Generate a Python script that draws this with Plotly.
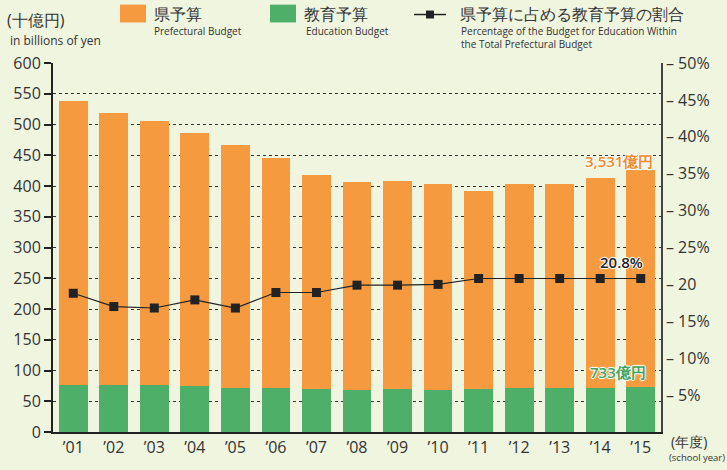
import plotly.graph_objects as go

years = ["’01", "’02", "’03", "’04", "’05", "’06", "’07", "’08", "’09", "’10", "’11", "’12", "’13", "’14", "’15"]
education = [76, 77, 76, 75, 71, 71, 70, 69, 70, 69, 70, 71, 71, 72, 73.3]
prefectural = [461.6, 442, 430, 412, 396, 374, 348, 337, 338, 334, 322, 332, 332, 341, 353.1]
share_pct = [18.8, 17.0, 16.8, 17.9, 16.8, 18.9, 18.9, 19.9, 19.9, 20.0, 20.8, 20.8, 20.8, 20.8, 20.8]

left_ticks = [0, 50, 100, 150, 200, 250, 300, 350, 400, 450, 500, 550, 600]
right_tickvals = [5, 10, 15, 20, 25, 30, 35, 40, 45, 50]
right_ticktext = ["– 5%", "– 10%", "– 15%", "– 20", "– 25%", "– 30%", "– 35%", "– 40%", "– 45%", "– 50%"]

ORANGE = "#F59A3E"
GREEN = "#4DAF68"
BG = "#EFF5DF"
DARK = "#222222"
FONT = "Open Sans"

fig = go.Figure()
fig.add_trace(go.Bar(x=years, y=education, marker_color=GREEN, marker_line_width=0, name="教育予算"))
fig.add_trace(go.Bar(x=years, y=prefectural, marker_color=ORANGE, marker_line_width=0, name="県予算"))
fig.add_trace(go.Scatter(x=years, y=share_pct, yaxis="y2", mode="lines+markers",
                         line=dict(color=DARK, width=1.2),
                         marker=dict(symbol="square", size=9, color=DARK),
                         name="割合"))

fig.update_layout(
    width=727, height=470,
    margin=dict(l=53, r=66, t=63, b=34),
    barmode="stack", bargap=0.29,
    showlegend=False,
    paper_bgcolor=BG, plot_bgcolor=BG,
    font=dict(family=FONT, color="#333333", size=15),
    xaxis=dict(range=[-0.5, 14.5], showline=True, linecolor=DARK, linewidth=2, ticks="", showgrid=False,
               tickfont=dict(size=16, color="#333333")),
    yaxis=dict(range=[0, 600], tickvals=left_ticks, showline=True, linecolor=DARK, linewidth=2,
               ticks="outside", ticklen=7, tickcolor=DARK, tickwidth=1.5,
               showgrid=True, gridcolor="#333333", griddash="dot", gridwidth=1,
               zeroline=False, tickfont=dict(size=16, color="#333333")),
    yaxis2=dict(range=[0, 50], overlaying="y", side="right", tickvals=right_tickvals,
                ticktext=right_ticktext, showline=True, linecolor="#444444", linewidth=1.5,
                ticks="", showgrid=False, zeroline=False,
                tickfont=dict(size=16, color="#333333")),
)


def px_x(px):
    return (px - 53) / 608.0


def px_y(py):
    return (436 - py) / 373.0


fig.add_shape(type="rect", xref="x domain", yref="y domain", x0=px_x(120), x1=px_x(146),
              y0=px_y(22), y1=px_y(4), fillcolor=ORANGE, line_width=0)
fig.add_shape(type="rect", xref="x domain", yref="y domain", x0=px_x(270), x1=px_x(296),
              y0=px_y(22), y1=px_y(4), fillcolor=GREEN, line_width=0)
fig.add_shape(type="line", xref="x domain", yref="y domain", x0=px_x(414), x1=px_x(446),
              y0=px_y(14), y1=px_y(14), line=dict(color=DARK, width=1.5))
fig.add_shape(type="rect", xref="x domain", yref="y domain", x0=px_x(426), x1=px_x(434),
              y0=px_y(18), y1=px_y(10), fillcolor=DARK, line_width=0)


def ann(text, x, y, size, anchor="left", color="#333333", yanchor="middle", **kw):
    fig.add_annotation(text=text, xref="x domain", yref="y domain", x=px_x(x), y=px_y(y),
                       xanchor=anchor, yanchor=yanchor, showarrow=False,
                       font=dict(size=size, color=color, family=FONT), **kw)


ann("(十億円)", 5, 20, 16)
ann("in billions of yen", 8, 40, 12)
ann("県予算", 152, 13, 16)
ann("Prefectural Budget", 152, 31, 10)
ann("教育予算", 302, 13, 16)
ann("Education Budget", 304, 31, 10)
ann("県予算に占める教育予算の割合", 458, 13, 16)
ann("Percentage of the Budget for Education Within<br>the Total Prefectural Budget", 459, 37, 10,
    align="left")
ann("(年度)", 669, 446, 14)
ann("(school year)", 667, 462, 9.5)

glow = "1px 0 0 white, -1px 0 0 white, 0 1px 0 white, 0 -1px 0 white, 0 0 3px white"
fig.add_annotation(text="3,531億円", x=years[-1], y=education[-1] + prefectural[-1], yref="y",
                   xshift=-22, yshift=9, showarrow=False,
                   font=dict(size=15, color="#F08A2A", family=FONT, weight=600, shadow=glow))
fig.add_annotation(text="733億円", x=years[-1], y=education[-1], yref="y",
                   xshift=-23, yshift=15, showarrow=False,
                   font=dict(size=15, color="#3FA45C", family=FONT, weight=600, shadow=glow))
fig.add_annotation(text="20.8%", x=years[-1], y=share_pct[-1], yref="y2",
                   xshift=-19, yshift=17, showarrow=False,
                   font=dict(size=15, color="#222222", family=FONT, weight=600, shadow=glow))

fig.write_html("out.html")
